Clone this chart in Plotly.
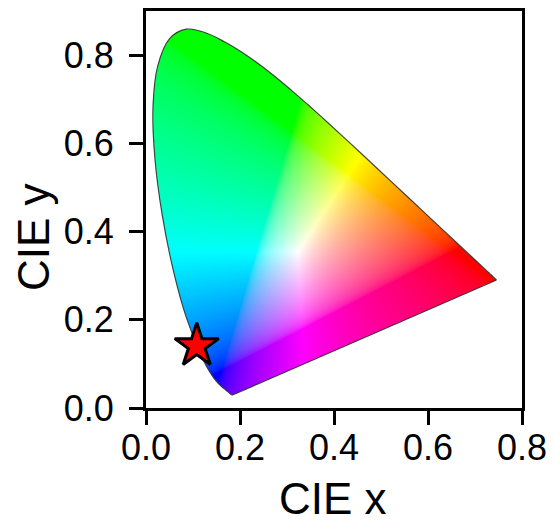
import numpy as np
import plotly.graph_objects as go
import zlib, struct, base64

# CIE 1931 2-degree spectral locus (380-700 nm, 5 nm steps)
locus_x = [0.1741, 0.1740, 0.1738, 0.1736, 0.1733, 0.1730, 0.1726, 0.1721, 0.1714, 0.1703,
           0.1689, 0.1669, 0.1644, 0.1611, 0.1566, 0.1510, 0.1440, 0.1355, 0.1241, 0.1096,
           0.0913, 0.0687, 0.0454, 0.0235, 0.0082, 0.0039, 0.0139, 0.0389, 0.0743, 0.1142,
           0.1547, 0.1929, 0.2296, 0.2658, 0.3016, 0.3373, 0.3731, 0.4087, 0.4441, 0.4788,
           0.5125, 0.5448, 0.5752, 0.6029, 0.6270, 0.6482, 0.6658, 0.6801, 0.6915, 0.7006,
           0.7079, 0.7140, 0.7190, 0.7230, 0.7260, 0.7283, 0.7300, 0.7311, 0.7320, 0.7327,
           0.7334, 0.7340, 0.7344, 0.7346, 0.7347]
locus_y = [0.0050, 0.0050, 0.0049, 0.0049, 0.0048, 0.0048, 0.0048, 0.0048, 0.0051, 0.0058,
           0.0069, 0.0086, 0.0109, 0.0138, 0.0177, 0.0227, 0.0297, 0.0399, 0.0578, 0.0868,
           0.1327, 0.2007, 0.2950, 0.4127, 0.5384, 0.6548, 0.7502, 0.8120, 0.8338, 0.8262,
           0.8059, 0.7816, 0.7543, 0.7243, 0.6923, 0.6589, 0.6245, 0.5896, 0.5547, 0.5202,
           0.4866, 0.4544, 0.4242, 0.3965, 0.3725, 0.3514, 0.3340, 0.3197, 0.3083, 0.2993,
           0.2920, 0.2859, 0.2809, 0.2770, 0.2740, 0.2717, 0.2700, 0.2689, 0.2680, 0.2673,
           0.2666, 0.2660, 0.2656, 0.2654, 0.2653]
# the diagram in the reference sits slightly offset on the axes
diagram_shift_x = 0.011
diagram_shift_y = 0.025

# measured point (star)
point_x = [0.108]
point_y = [0.141]

x_ticks = [0.0, 0.2, 0.4, 0.6, 0.8]
y_ticks = [0.0, 0.2, 0.4, 0.6, 0.8]
x_range = [0, 0.8]
y_range = [0, 0.9]

vx = np.array(locus_x) + diagram_shift_x
vy = np.array(locus_y) + diagram_shift_y


def smooth_outline(xs, ys, n=10):
    """Catmull-Rom rendering of the outline, used only for the image mask."""
    P = np.stack([xs, ys], 1)
    P = np.vstack([P[0], P, P[-1]])
    out = []
    for i in range(1, len(P) - 2):
        p0, p1, p2, p3 = P[i - 1], P[i], P[i + 1], P[i + 2]
        for t in np.linspace(0, 1, n, endpoint=False):
            t2, t3 = t * t, t * t * t
            out.append(0.5 * ((2 * p1) + (-p0 + p2) * t + (2 * p0 - 5 * p1 + 4 * p2 - p3) * t2
                              + (-p0 + 3 * p1 - 3 * p2 + p3) * t3))
    out.append(P[-2])
    out = np.array(out)
    return out[:, 0], out[:, 1]


# ---- build the colour-filled diagram image ----
W, H = 800, 900
px = (np.arange(W) + 0.5) / W * (x_range[1] - x_range[0]) + x_range[0]
py = y_range[1] - (np.arange(H) + 0.5) / H * (y_range[1] - y_range[0])
PX, PY = np.meshgrid(px, py)


def inside(qx, qy, ux, uy):
    res = np.zeros(qx.shape, bool)
    n = len(ux)
    j = n - 1
    for i in range(n):
        xi, yi, xj, yj = ux[i], uy[i], ux[j], uy[j]
        if yi != yj:
            cond = ((yi > qy) != (yj > qy)) & (qx < (xj - xi) * (qy - yi) / (yj - yi) + xi)
            res ^= cond
        j = i
    return res


sx, sy = smooth_outline(vx, vy)
mask = inside(PX, PY, sx, sy)
xc = PX - diagram_shift_x
yc = np.clip(PY - diagram_shift_y, 1e-4, None)
X = xc / yc
Y = np.ones_like(X)
Z = (1 - xc - yc) / yc
R = 3.2406 * X - 1.5372 * Y - 0.4986 * Z
G = -0.9689 * X + 1.8758 * Y + 0.0415 * Z
B = 0.0557 * X - 0.2040 * Y + 1.0570 * Z
rgb = np.clip(np.stack([R, G, B], -1), 0, None)
rgb = rgb / np.clip(rgb.max(-1, keepdims=True), 1e-9, None)
rgb = np.where(rgb <= 0.0031308, 12.92 * rgb, 1.055 * np.power(rgb, 1 / 2.4) - 0.055)
img = np.zeros((H, W, 4), np.uint8)
img[..., :3] = np.clip(rgb * 255 + 0.5, 0, 255).astype(np.uint8)
img[..., 3] = np.where(mask, 255, 0).astype(np.uint8)


def png_bytes(a):
    h, w, _ = a.shape
    raw = b''.join(b'\x00' + a[i].tobytes() for i in range(h))

    def chunk(t, d):
        c = struct.pack('>I', len(d)) + t + d
        return c + struct.pack('>I', zlib.crc32(t + d) & 0xffffffff)
    ihdr = struct.pack('>IIBBBBB', w, h, 8, 6, 0, 0, 0)
    return (b'\x89PNG\r\n\x1a\n' + chunk(b'IHDR', ihdr)
            + chunk(b'IDAT', zlib.compress(raw, 9)) + chunk(b'IEND', b''))


uri = 'data:image/png;base64,' + base64.b64encode(png_bytes(img)).decode()

fig = go.Figure()
outline = dict(color='rgba(40,40,40,0.85)', width=1.2)
fig.add_trace(go.Scatter(
    x=list(vx), y=list(vy), mode='lines', line=dict(shape='spline', **outline),
    hoverinfo='skip', showlegend=False))
fig.add_trace(go.Scatter(
    x=[vx[-1], vx[0]], y=[vy[-1], vy[0]], mode='lines', line=outline,
    hoverinfo='skip', showlegend=False))
fig.add_trace(go.Scatter(
    x=point_x, y=point_y, mode='markers',
    marker=dict(symbol='star', size=33, color='#ff0000', line=dict(color='black', width=3)),
    showlegend=False))

fig.add_layout_image(dict(source=uri, xref='x', yref='y', x=x_range[0], y=y_range[1],
                          sizex=x_range[1] - x_range[0], sizey=y_range[1] - y_range[0],
                          sizing='stretch', xanchor='left', yanchor='top', layer='below'))

font_family = 'Liberation Sans, Arial, sans-serif'
axis_common = dict(showline=True, linewidth=3, linecolor='black', mirror=True,
                   ticks='outside', ticklen=14, tickwidth=3, tickcolor='black',
                   showgrid=False, zeroline=False,
                   tickfont=dict(family=font_family, size=36, color='black'))
fig.update_xaxes(range=x_range, tickvals=x_ticks, ticktext=[f'{v:.1f}' for v in x_ticks],
                 ticklabelstandoff=-8, **axis_common)
fig.update_yaxes(range=y_range, tickvals=y_ticks, ticktext=[f'{v:.1f}' for v in y_ticks],
                 ticklabelstandoff=8, **axis_common)

fig.add_annotation(text='CIE x', xref='paper', yref='paper', x=0.497, y=-0.229,
                   xanchor='center', yanchor='middle', showarrow=False,
                   font=dict(family=font_family, size=44, color='black'))
fig.add_annotation(text='CIE y', xref='paper', yref='paper', x=-0.301, y=0.43,
                   xanchor='center', yanchor='middle', showarrow=False, textangle=-90,
                   font=dict(family=font_family, size=44, color='black'))

fig.update_layout(width=555, height=523, margin=dict(l=146, r=33, t=8, b=115),
                  paper_bgcolor='white', plot_bgcolor='white')
fig.write_html('out.html')
